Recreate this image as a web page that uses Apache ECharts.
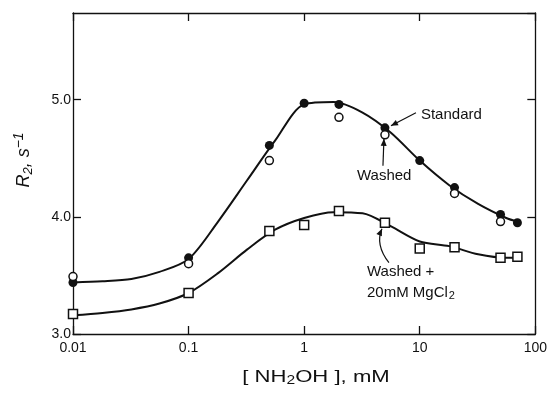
<!DOCTYPE html>
<html>
<head>
<meta charset="utf-8">
<title>R2 vs [NH2OH]</title>
<script src="https://cdn.jsdelivr.net/npm/echarts@6/dist/echarts.min.js"></script>
<style>
  html, body { margin: 0; padding: 0; background: #fff; }
  #chart { width: 550px; height: 397px; }
</style>
</head>
<body>
<div id="chart"></div>
<script>
// [NH2OH] concentrations (mM) and measured relaxation rates R2 (s^-1)
const stdConc    = [0.01, 0.1, 0.5, 1, 2, 5, 10, 20, 50, 70];
const stdR2      = [3.44, 3.65, 4.61, 4.97, 4.96, 4.76, 4.48, 4.25, 4.02, 3.95];

const washedConc = [0.01, 0.1, 0.5, 2, 5, 20, 50];
const washedR2   = [3.49, 3.60, 4.48, 4.85, 4.70, 4.20, 3.96];

const mgConc     = [0.01, 0.1, 0.5, 1, 2, 5, 10, 20, 50, 70];
const mgR2       = [3.17, 3.35, 3.88, 3.93, 4.05, 3.95, 3.73, 3.74, 3.65, 3.66];

// hand-drawn fitted curves, sampled along the concentration axis
const curveConc  = [0.01, 0.018, 0.032, 0.056, 0.1, 0.18, 0.32, 0.56, 1, 1.8, 3.2, 5.6, 10, 18, 32, 56, 70];
const stdCurveR2 = [3.44, 3.45, 3.47, 3.53, 3.64, 3.96, 4.31, 4.65, 4.96, 4.98, 4.89, 4.72, 4.48, 4.27, 4.11, 3.99, 3.96];
const mgCurveR2  = [3.16, 3.18, 3.21, 3.26, 3.35, 3.52, 3.72, 3.89, 3.99, 4.04, 4.03, 3.92, 3.79, 3.75, 3.68, 3.65, 3.65];

const xTickLabels = { '-2': '0.01', '-1': '0.1', '0': '1', '1': '10', '2': '100' };

const FONT = 'Liberation Sans';
const zip = (xs, ys) => xs.map((x, i) => [x, ys[i]]);

const chart = echarts.init(document.getElementById('chart'), null, { renderer: 'canvas' });

const axisLine = { show: true, lineStyle: { color: '#111', width: 1.3 } };
const innerTick = { show: true, inside: true, length: 8, lineStyle: { color: '#111', width: 1.3 } };

chart.setOption({
  animation: false,
  backgroundColor: '#fff',
  grid: { left: 73, right: 10, top: 13, bottom: 63 },
  xAxis: [
    {
      type: 'log', logBase: 10, min: 0.01, max: 100, position: 'bottom',
      axisLine, axisTick: innerTick, splitLine: { show: false }, minorTick: { show: false },
      axisLabel: {
        margin: 7, color: '#111', fontFamily: FONT, fontSize: 14,
        formatter: v => xTickLabels[String(Math.round(Math.log10(v)))] || ''
      }
    },
    {
      type: 'log', logBase: 10, min: 0.01, max: 100, position: 'top',
      axisLine, axisTick: innerTick, axisLabel: { show: false }, splitLine: { show: false }
    }
  ],
  yAxis: [
    {
      type: 'value', min: 3, max: 5.74, interval: 1, position: 'left',
      axisLine, axisTick: innerTick, splitLine: { show: false },
      axisLabel: {
        margin: 2, color: '#111', fontFamily: FONT, fontSize: 14, showMaxLabel: false,
        formatter: v => (Math.abs(v - Math.round(v)) < 1e-6 ? v.toFixed(1) : '')
      }
    },
    {
      type: 'value', min: 3, max: 5.74, interval: 1, position: 'right',
      axisLine, axisTick: innerTick, axisLabel: { show: false }, splitLine: { show: false }
    }
  ],
  series: [
    {
      name: 'Standard curve', type: 'line', smooth: 0.3, symbol: 'none',
      data: zip(curveConc, stdCurveR2),
      lineStyle: { color: '#111', width: 2 }, z: 2
    },
    {
      name: 'Washed + MgCl2 curve', type: 'line', smooth: 0.3, symbol: 'none',
      data: zip(curveConc, mgCurveR2),
      lineStyle: { color: '#111', width: 2 }, z: 2
    },
    {
      name: 'Standard', type: 'scatter', symbol: 'circle', symbolSize: 9,
      data: zip(stdConc, stdR2),
      itemStyle: { color: '#111', opacity: 1 }, z: 3
    },
    {
      name: 'Washed', type: 'scatter', symbol: 'circle', symbolSize: 8,
      data: zip(washedConc, washedR2),
      itemStyle: { color: '#fff', borderColor: '#111', borderWidth: 1.5, opacity: 1 }, z: 4
    },
    {
      name: 'Washed + 20mM MgCl2', type: 'scatter', symbol: 'rect', symbolSize: 9,
      data: zip(mgConc, mgR2),
      itemStyle: { color: '#fff', borderColor: '#111', borderWidth: 1.5, opacity: 1 }, z: 4
    }
  ]
});

// ---- axis titles and annotations ----
const toPx = (x, y) => chart.convertToPixel({ xAxisIndex: 0, yAxisIndex: 0 }, [x, y]);

function arrowHead(tip, from, len, half) {
  const dx = tip[0] - from[0], dy = tip[1] - from[1];
  const d = Math.hypot(dx, dy) || 1;
  const ux = dx / d, uy = dy / d;
  const bx = tip[0] - ux * len, by = tip[1] - uy * len;
  return {
    type: 'polygon', silent: true, z: 10,
    shape: { points: [tip, [bx - uy * half, by + ux * half], [bx + uy * half, by - ux * half]] },
    style: { fill: '#111' }
  };
}

function straightArrow(from, tip) {
  return [
    { type: 'line', silent: true, z: 10,
      shape: { x1: from[0], y1: from[1], x2: tip[0], y2: tip[1] },
      style: { stroke: '#111', lineWidth: 1.2 } },
    arrowHead(tip, from, 7, 3)
  ];
}

function curvedArrow(from, ctrl, tip) {
  return [
    { type: 'bezierCurve', silent: true, z: 10,
      shape: { x1: from[0], y1: from[1], cpx1: ctrl[0], cpy1: ctrl[1], x2: tip[0], y2: tip[1] },
      style: { stroke: '#111', lineWidth: 1.2, fill: null } },
    arrowHead(tip, ctrl, 7, 3)
  ];
}

function label(text, x, y, opts) {
  return Object.assign({
    type: 'text', silent: true, z: 10, x, y,
    style: Object.assign({
      text, fill: '#111', font: '15px "' + FONT + '"', textVerticalAlign: 'middle', textAlign: 'left'
    }, opts && opts.style)
  }, opts && opts.el);
}

function drawNotes() {
  const pStd = toPx(5, 4.76);     // Standard point at 5 mM
  const pWash = toPx(5, 4.70);    // Washed point at 5 mM
  const pMg = toPx(5, 3.95);      // Washed + MgCl2 point at 5 mM

  const els = [];
  // Standard
  els.push(label('Standard', pStd[0] + 36, pStd[1] - 13));
  els.push(...straightArrow([pStd[0] + 31, pStd[1] - 15], [pStd[0] + 6, pStd[1] - 2]));
  // Washed
  els.push(label('Washed', pWash[0] - 28, pWash[1] + 41));
  els.push(...straightArrow([pWash[0] - 2, pWash[1] + 31], [pWash[0] - 1, pWash[1] + 4]));
  // Washed + 20mM MgCl2
  els.push(label('Washed +', pMg[0] - 18, pMg[1] + 49));
  els.push(label('{n|20mM MgCl}{s|2}', pMg[0] - 18, pMg[1] + 70, {
    style: {
      rich: {
        n: { fontFamily: FONT, fontSize: 15, fill: '#111' },
        s: { fontFamily: FONT, fontSize: 11, fill: '#111', padding: [7, 0, 0, 1] }
      }
    }
  }));
  els.push(...curvedArrow([pMg[0] + 4, pMg[1] + 40], [pMg[0] - 10, pMg[1] + 22], [pMg[0] - 3, pMg[1] + 6]));

  // x-axis title
  els.push({
    type: 'text', silent: true, x: 316, y: 377, scaleX: 1.3,
    style: {
      text: '{n|[ NH}{s|2}{n|OH ], mM}',
      textAlign: 'center', textVerticalAlign: 'middle',
      rich: {
        n: { fontFamily: FONT, fontSize: 17, fill: '#111' },
        s: { fontFamily: FONT, fontSize: 12, fill: '#111', padding: [8, 0, 0, 0] }
      }
    }
  });
  // y-axis title
  els.push({
    type: 'text', silent: true, x: 24, y: 160, rotation: Math.PI / 2,
    style: {
      text: '{i|R}{s|2}{n|, s}{p|\u22121}',
      textAlign: 'center', textVerticalAlign: 'middle',
      rich: {
        i: { fontFamily: FONT, fontSize: 18, fontStyle: 'italic', fill: '#111' },
        s: { fontFamily: FONT, fontSize: 13, fontStyle: 'italic', fill: '#111', padding: [8, 0, 0, 0] },
        n: { fontFamily: FONT, fontSize: 18, fontStyle: 'italic', fill: '#111' },
        p: { fontFamily: FONT, fontSize: 14, fontStyle: 'italic', fill: '#111', padding: [0, 0, 10, 0] }
      }
    }
  });

  chart.setOption({ graphic: { elements: els } });
}

drawNotes();
</script>
</body>
</html>
